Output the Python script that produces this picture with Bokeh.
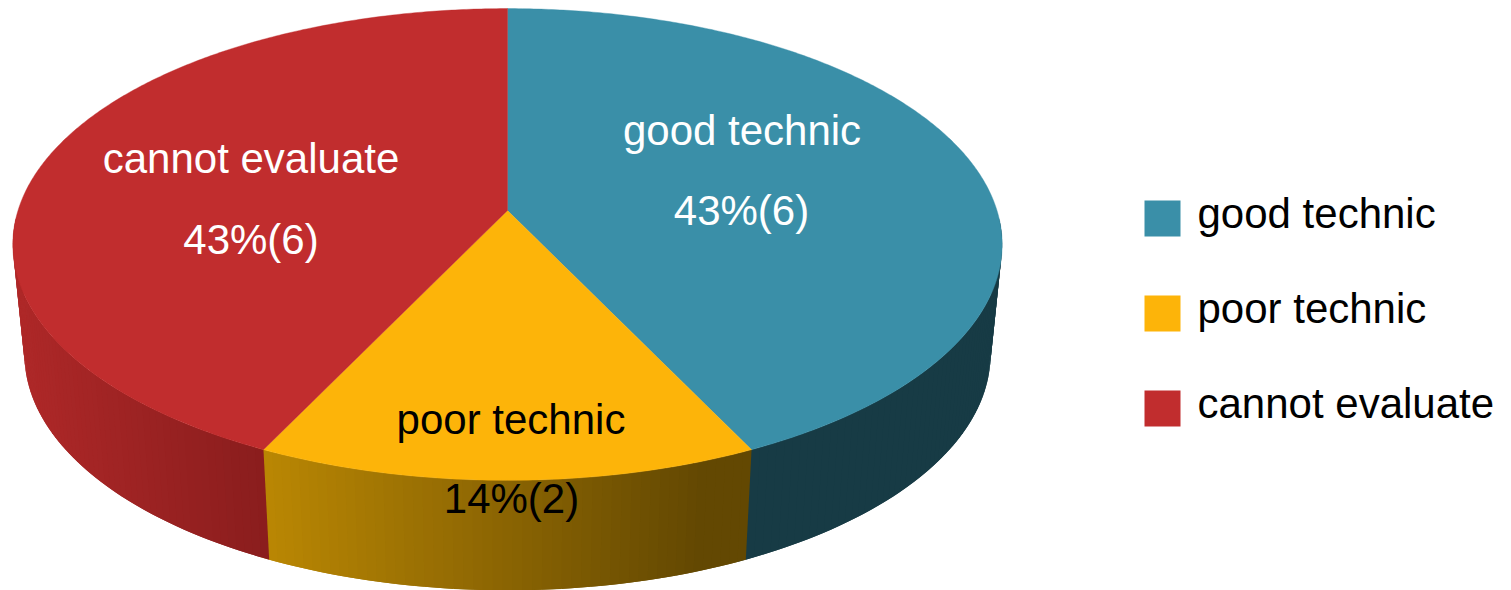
import math

from bokeh.core.properties import value
from bokeh.embed import file_html
from bokeh.models import ColumnDataSource, Range1d
from bokeh.plotting import figure
from bokeh.resources import INLINE

# Chart content
categories = ["good technic", "poor technic", "cannot evaluate"]
counts = [6, 2, 6]
percent_labels = ["43%(6)", "14%(2)", "43%(6)"]

# Slice colours: top face, then side shading from its left edge to its right edge
top_colors = ["#3A8FA8", "#FDB409", "#C12D2E"]
side_left = ["#173B45", "#BA8703", "#AE2828"]
side_right = ["#173B45", "#634802", "#8A1D1D"]
text_colors = ["white", "black", "white"]

WIDTH, HEIGHT = 1511, 590
FONT = value("Liberation Sans")
FONT_SIZE = "42px"
BASELINE_SHIFT = -15

# Projection of the disc: a circle seen in perspective
CX = 507.0
TILT = 0.144
TOP_PLANE = dict(apex_y=210.0, a=489.5, b=231.0)
BOTTOM_PLANE = dict(apex_y=320.0, a=478.0, b=231.0)
WALL_FROM = math.radians(92)
WALL_TO = math.radians(268)


def project(theta, plane):
    """Map an angle, clockwise from twelve o'clock, to page coordinates."""
    denom = 1.0 + TILT * math.cos(theta)
    return (
        CX + plane["a"] * math.sin(theta) / denom,
        plane["apex_y"] - plane["b"] * math.cos(theta) / denom,
    )


def mix(c0, c1, t):
    t = min(max(t, 0.0), 1.0)
    parts = []
    for i in (1, 3, 5):
        a, b = int(c0[i:i + 2], 16), int(c1[i:i + 2], 16)
        parts.append(round(a + (b - a) * t))
    return "#%02X%02X%02X" % tuple(parts)


total = sum(counts)
edges = [0.0]
for count in counts:
    edges.append(edges[-1] + 2 * math.pi * count / total)

p = figure(
    width=WIDTH,
    height=HEIGHT,
    x_range=Range1d(0, WIDTH),
    y_range=Range1d(HEIGHT, 0),
    output_backend="svg",
    toolbar_location=None,
    min_border=0,
    outline_line_color=None,
    background_fill_color="white",
    border_fill_color="white",
)
p.axis.visible = False
p.grid.visible = False

# Side wall: front part of the rim only, cut into narrow overlapping strips
# so the shading can vary across each slice without seams
strip_xs, strip_ys, strip_colors = [], [], []
STEP = math.radians(1.0)
for i in range(len(counts)):
    start = max(edges[i], WALL_FROM)
    stop = min(edges[i + 1], WALL_TO)
    x_a = project(stop, TOP_PLANE)[0]
    x_b = project(start, TOP_PLANE)[0]
    steps = max(2, int((stop - start) / STEP))
    width = (stop - start) / steps
    for k in range(steps):
        t0 = start + width * k
        # each strip runs one step past its end, the next one paints over that
        t1 = min(t0 + 2 * width, WALL_TO)
        upper0, upper1 = project(t0, TOP_PLANE), project(t1, TOP_PLANE)
        lower0, lower1 = project(t0, BOTTOM_PLANE), project(t1, BOTTOM_PLANE)
        strip_xs.append([upper0[0], upper1[0], lower1[0], lower0[0]])
        strip_ys.append([upper0[1], upper1[1], lower1[1], lower0[1]])
        mid_x = project(t0 + 0.5 * width, TOP_PLANE)[0]
        shade = (mid_x - x_a) / max(x_b - x_a, 1.0)
        if i == 1:
            shade = shade / 0.9
        strip_colors.append(mix(side_left[i], side_right[i], shade))

p.patches(
    "xs",
    "ys",
    source=ColumnDataSource(dict(xs=strip_xs, ys=strip_ys, color=strip_colors)),
    fill_color="color",
    line_color=None,
)

# Top face of each slice
face_xs, face_ys = [], []
for i in range(len(counts)):
    start, stop = edges[i], edges[i + 1]
    steps = max(4, int(math.degrees(stop - start) * 2))
    xs, ys = [CX], [TOP_PLANE["apex_y"]]
    for k in range(steps + 1):
        x, y = project(start + (stop - start) * k / steps, TOP_PLANE)
        xs.append(x)
        ys.append(y)
    face_xs.append(xs)
    face_ys.append(ys)

p.patches(
    "xs",
    "ys",
    source=ColumnDataSource(dict(xs=face_xs, ys=face_ys, color=top_colors)),
    fill_color="color",
    line_color="color",
    line_width=0.4,
)

# Labels placed on the slices
name_x = [741.5, 510.5, 250.5]
name_y = [145, 434, 173]
pct_x = [741, 511, 250.5]
pct_y = [225, 513, 254]
p.text(
    x=name_x,
    y=[v + BASELINE_SHIFT for v in name_y],
    text=categories,
    text_color=text_colors,
    text_font=FONT,
    text_font_size=FONT_SIZE,
    text_align="center",
    text_baseline="alphabetic",
)
p.text(
    x=pct_x,
    y=[v + BASELINE_SHIFT for v in pct_y],
    text=percent_labels,
    text_color=text_colors,
    text_font=FONT,
    text_font_size=FONT_SIZE,
    text_align="center",
    text_baseline="alphabetic",
)

# Legend on the right
swatch_y = [218, 313, 408]
p.rect(
    x=[1162] * 3,
    y=swatch_y,
    width=36,
    height=36,
    fill_color=top_colors,
    line_color=None,
)
p.text(
    x=[1197] * 3,
    y=[v + BASELINE_SHIFT for v in (228, 323, 418)],
    text=categories,
    text_color="black",
    text_font=FONT,
    text_font_size=FONT_SIZE,
    text_align="left",
    text_baseline="alphabetic",
)

open("out.html", "w").write(file_html(p, INLINE))
